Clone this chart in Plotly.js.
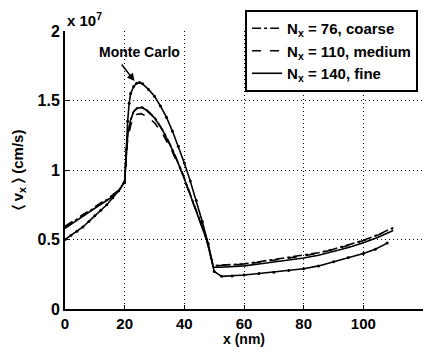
<!DOCTYPE html>
<html>
<head>
<meta charset="utf-8">
<script src="https://cdn.plot.ly/plotly-3.0.1.min.js"></script>
<style>html,body{margin:0;padding:0;background:#fff;}#chart{width:434px;height:347px;}</style>
</head>
<body>
<div id="chart"></div>
<script>
// values in units of 1e7 cm/s
const mcX = [0, 2, 4, 6, 8, 10, 12, 14, 16, 18, 20, 20.5, 21, 21.5, 22, 23, 24, 25, 26, 28, 30, 32, 34, 36, 38, 40, 42, 44, 46, 48, 50, 52.5, 56, 60, 65, 70, 75, 80, 85, 90, 95, 100, 104, 108];
const mcY = [0.50, 0.53, 0.56, 0.59, 0.63, 0.67, 0.71, 0.75, 0.80, 0.85, 0.91, 1.15, 1.35, 1.48, 1.55, 1.60, 1.625, 1.63, 1.62, 1.58, 1.53, 1.46, 1.38, 1.28, 1.17, 1.05, 0.92, 0.78, 0.63, 0.47, 0.27, 0.235, 0.238, 0.245, 0.255, 0.265, 0.277, 0.29, 0.31, 0.34, 0.37, 0.40, 0.43, 0.474];

const mX = [0, 5, 10, 15, 18, 20, 20.5, 21, 22, 23, 24, 25.5, 27, 30, 33, 36, 39, 42, 45, 47.5, 49.7, 52, 56, 60, 65, 70, 75, 80, 85, 90, 95, 100, 105, 110];
const coarseY = [0.59, 0.66, 0.73, 0.80, 0.85, 0.92, 1.10, 1.25, 1.36, 1.42, 1.445, 1.455, 1.44, 1.38, 1.28, 1.15, 1.00, 0.83, 0.65, 0.50, 0.31, 0.315, 0.318, 0.325, 0.34, 0.355, 0.37, 0.385, 0.405, 0.43, 0.46, 0.495, 0.535, 0.585];
const mediumY = [0.595, 0.665, 0.735, 0.805, 0.855, 0.92, 1.08, 1.22, 1.32, 1.38, 1.40, 1.405, 1.39, 1.34, 1.25, 1.13, 0.99, 0.82, 0.645, 0.50, 0.31, 0.313, 0.316, 0.322, 0.336, 0.351, 0.366, 0.382, 0.402, 0.427, 0.457, 0.492, 0.532, 0.58];
const fineY = [0.58, 0.655, 0.725, 0.795, 0.85, 0.92, 1.10, 1.25, 1.36, 1.42, 1.44, 1.45, 1.435, 1.375, 1.275, 1.145, 0.995, 0.825, 0.645, 0.495, 0.30, 0.300, 0.304, 0.31, 0.324, 0.338, 0.352, 0.367, 0.387, 0.412, 0.442, 0.477, 0.517, 0.565];

const legendNames = ['N<sub>x</sub> = 76, coarse', 'N<sub>x</sub> = 110, medium', 'N<sub>x</sub> = 140, fine'];
const xTicks = [0, 20, 40, 60, 80, 100, 120];
const yTicks = [0, 0.5, 1, 1.5, 2];
const yTickText = ['0', '0.5', '1', '1.5', '2'];

const F = 'Liberation Sans, Arial, sans-serif';
const traces = [
  {x: mcX, y: mcY, mode: 'lines+markers', line: {color: '#000', width: 1.6}, marker: {size: 3, color: '#000'}, showlegend: false, name: 'Monte Carlo'},
  {x: mX, y: coarseY, mode: 'lines', line: {color: '#000', width: 1.6, dash: 'dashdot'}, name: legendNames[0]},
  {x: mX, y: mediumY, mode: 'lines', line: {color: '#000', width: 1.6, dash: 'dash'}, name: legendNames[1]},
  {x: mX, y: fineY, mode: 'lines', line: {color: '#000', width: 1.6}, name: legendNames[2]}
];

const layout = {
  width: 434, height: 347,
  margin: {l: 65, r: 11, t: 30, b: 37.5},
  paper_bgcolor: '#fff', plot_bgcolor: '#fff',
  font: {family: F, size: 14, color: '#000', weight: 'bold'},
  xaxis: {
    range: [0, 120], tickvals: xTicks, ticktext: xTicks.map(String),
    showgrid: true, gridcolor: '#000', griddash: '1px,3px', gridwidth: 1,
    zeroline: false, showline: true, linecolor: '#000', linewidth: 2,
    ticks: 'inside', ticklen: 4, tickcolor: '#000',
    tickfont: {family: F, size: 15, weight: 'bold'},
    title: {text: 'x (nm)', font: {family: F, size: 14, weight: 'bold'}, standoff: 3}
  },
  yaxis: {
    range: [0, 2], tickvals: yTicks, ticktext: yTickText,
    showgrid: true, gridcolor: '#000', griddash: '1px,3px', gridwidth: 1,
    zeroline: false, showline: true, linecolor: '#000', linewidth: 2,
    ticks: 'inside', ticklen: 4, tickcolor: '#000',
    tickfont: {family: F, size: 16, weight: 'bold'},
    title: {text: '\u2329 v<sub>x</sub> \u232A (cm/s)', font: {family: F, size: 15, weight: 'bold'}, standoff: 10}
  },
  legend: {
    x: 0.503, y: 1.0716, xanchor: 'left', yanchor: 'top',
    bgcolor: '#fff', bordercolor: '#000', borderwidth: 2,
    font: {family: F, size: 15, weight: 'bold'},
    tracegroupgap: 0
  },
  annotations: [
    {xref: 'paper', yref: 'paper', x: 0, y: 1, xanchor: 'left', yanchor: 'bottom', showarrow: false,
     text: 'x 10<sup>7</sup>', font: {family: F, size: 15, weight: 'bold'}},
    {xref: 'x', yref: 'y', x: 25.0, y: 1.85, showarrow: false, text: 'Monte Carlo',
     font: {family: F, size: 14, weight: 'bold'}},
    {xref: 'x', yref: 'y', x: 23.3, y: 1.64, showarrow: true, text: '', arrowhead: 2, arrowsize: 1, arrowwidth: 1.5,
     arrowcolor: '#000', ax: -14, ay: -18}
  ]
};

Plotly.newPlot('chart', traces, layout, {displayModeBar: false, staticPlot: true});
</script>
</body>
</html>
